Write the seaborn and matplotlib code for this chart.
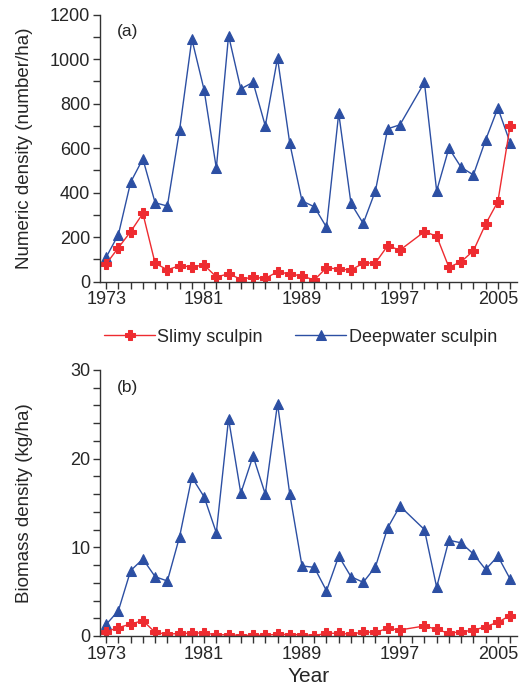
import numpy as np
import pandas as pd
import matplotlib
matplotlib.use("Agg")
import matplotlib.pyplot as plt
from matplotlib.ticker import MultipleLocator
import seaborn as sns

# Datos (1998 sin muestreo)
years = [1973, 1974, 1975, 1976, 1977, 1978, 1979, 1980, 1981, 1982, 1983,
         1984, 1985, 1986, 1987, 1988, 1989, 1990, 1991, 1992, 1993, 1994,
         1995, 1996, 1997, 1999, 2000, 2001, 2002, 2003, 2004, 2005, 2006]

slimy_num = [80, 153, 225, 307, 83, 54, 72, 67, 75, 22, 35,
             12, 20, 15, 45, 35, 26, 8, 63, 57, 53, 83,
             85, 162, 142, 225, 205, 65, 90, 139, 259, 360, 700]
deep_num = [110, 212, 447, 552, 355, 340, 682, 1090, 862, 510, 1106,
            866, 896, 700, 1004, 622, 363, 337, 245, 757, 352, 262,
            409, 687, 705, 895, 408, 600, 514, 480, 637, 780, 625]

slimy_bio = [0.5, 0.94, 1.35, 1.73, 0.41, 0.19, 0.3, 0.3, 0.36, 0.12, 0.15,
             0.05, 0.08, 0.08, 0.2, 0.15, 0.15, 0.05, 0.3, 0.3, 0.2, 0.45,
             0.41, 0.86, 0.68, 1.13, 0.75, 0.3, 0.49, 0.64, 1.05, 1.55, 2.3]
deep_bio = [1.3, 2.85, 7.37, 8.68, 6.69, 6.2, 11.2, 17.9, 15.7, 11.65, 24.5,
            16.1, 20.3, 16.0, 26.2, 16.0, 7.9, 7.74, 5.1, 9.0, 6.69, 6.05,
            7.8, 12.2, 14.65, 12.0, 5.5, 10.8, 10.5, 9.25, 7.5, 9.0, 6.43]

major_years = [1973, 1981, 1989, 1997, 2005]

RED = "#ee2b30"
BLUE = "#2c4fa3"


def style_axis(ax, ymax, ystep, yminor, panel_label, ylabel):
    ax.set_xlim(1972.5, 2006.55)
    ax.set_ylim(0, ymax)
    ax.set_xticks(major_years)
    ax.xaxis.set_minor_locator(MultipleLocator(1))
    ax.yaxis.set_major_locator(MultipleLocator(ystep))
    ax.yaxis.set_minor_locator(MultipleLocator(yminor))
    ax.tick_params(which="both", direction="out", length=5, width=1,
                   color="#333333", labelsize=13, pad=2)
    for side in ["top", "right"]:
        ax.spines[side].set_visible(False)
    for side in ["left", "bottom"]:
        ax.spines[side].set_linewidth(1)
        ax.spines[side].set_color("#333333")
    ax.set_ylabel(ylabel, fontsize=13.5)
    ax.yaxis.set_label_coords(-0.16, 0.5)
    ax.set_xlabel("")
    ax.text(0.04, 0.935, panel_label, transform=ax.transAxes, fontsize=12.5,
            ha="left", va="center")
    leg = ax.get_legend()
    if leg is not None:
        leg.remove()


def main():
    sns.set_style("ticks")
    plt.rcParams["font.family"] = ["Liberation Sans", "DejaVu Sans"]

    df = pd.DataFrame({"year": years, "slimy_num": slimy_num,
                       "deep_num": deep_num, "slimy_bio": slimy_bio,
                       "deep_bio": deep_bio})

    fig = plt.figure(figsize=(5.21, 6.94), dpi=100)
    ax1 = fig.add_axes([0.192, 0.594, 0.8, 0.385])
    ax2 = fig.add_axes([0.192, 0.0836, 0.8, 0.3833])

    for ax, scol, dcol in [(ax1, "slimy_num", "deep_num"),
                           (ax2, "slimy_bio", "deep_bio")]:
        sns.lineplot(data=df, x="year", y=dcol, ax=ax, color=BLUE,
                     linewidth=1, marker="^", markersize=7.5, markeredgecolor=BLUE,
                     label="Deepwater sculpin")
        sns.lineplot(data=df, x="year", y=scol, ax=ax, color=RED,
                     linewidth=1, marker="P", markersize=7, markeredgecolor=RED,
                     label="Slimy sculpin")

    style_axis(ax1, 1200, 200, 100, "(a)", "Numeric density (number/ha)")
    style_axis(ax2, 30, 10, 2, "(b)", "Biomass density (kg/ha)")
    ax2.set_xlabel("Year", fontsize=15, labelpad=3)

    # Leyenda comun entre los paneles
    handles, labels = ax1.get_legend_handles_labels()
    order = [labels.index("Slimy sculpin"), labels.index("Deepwater sculpin")]
    fig.legend([handles[i] for i in order], [labels[i] for i in order],
               loc="center", bbox_to_anchor=(0.577, 0.514), ncol=2,
               frameon=False, fontsize=13, handlelength=2.8,
               columnspacing=1.8, handletextpad=0.15)

    fig.savefig("out.png", dpi=100)


if __name__ == "__main__":
    main()
